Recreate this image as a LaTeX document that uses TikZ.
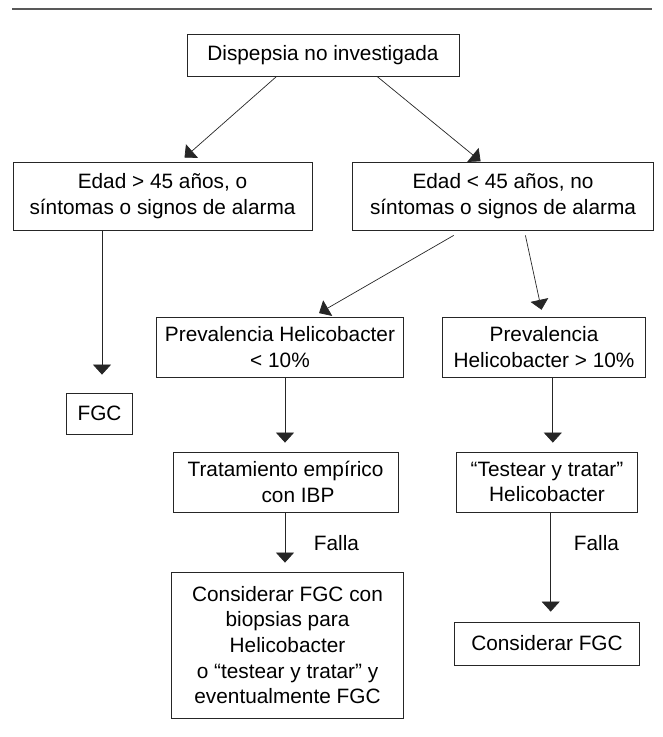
\documentclass[tikz,border=0pt]{standalone}
\usepackage{fontspec}
\setmainfont{Liberation Sans}
\usetikzlibrary{arrows.meta}
\begin{document}
\begin{tikzpicture}[x=1pt,y=-1pt,
  box/.style={draw=black!85,line width=0.8pt,inner sep=0pt,align=center,
    font=\fontsize{20.8}{25.7}\selectfont,text=black},
  arr/.style={draw=black!85,line width=0.7pt,-{Triangle[width=18pt,length=10pt]}},
  lbl/.style={font=\fontsize{20.8}{25.7}\selectfont,text=black,inner sep=0pt}]
\useasboundingbox (0,0) rectangle (662,737);
\draw[line width=1.2pt,black!65] (12,9) -- (652,9);

\node[box,minimum width=272pt,minimum height=42pt] (D) at (323,55) {Dispepsia no investigada};
\node[box,minimum width=299pt,minimum height=68pt] (L1) at (162.5,196) {Edad > 45 años, o\\síntomas o signos de alarma};
\node[box,minimum width=301.5pt,minimum height=68pt] (R1) at (503,196) {Edad < 45 años, no\\síntomas o signos de alarma};
\node[box,minimum width=66pt,minimum height=41pt] (FGC) at (99.5,413.5) {FGC};
\node[box,minimum width=246.5pt,minimum height=60pt] (P1) at (280,347) {Prevalencia Helicobacter\\< 10\%};
\node[box,minimum width=202.5pt,minimum height=60pt] (P2) at (544,347) {Prevalencia\\Helicobacter > 10\%};
\node[box,minimum width=225pt,minimum height=60pt] (T1) at (285.5,482) {Tratamiento empírico\\\hspace*{1.2em}con IBP};
\node[box,minimum width=181.5pt,minimum height=60pt] (T2) at (547,482) {“Testear y tratar”\\Helicobacter};
\node[box,minimum width=232pt,minimum height=146pt] (C1) at (287.5,645) {Considerar FGC con\\biopsias para\\Helicobacter\\o “testear y tratar” y\\eventualmente FGC};
\node[box,minimum width=185pt,minimum height=43pt] (C2) at (547,643.5) {Considerar FGC};

\node[lbl] (F1) at (336.5,543) {Falla};
\node[lbl] (F2) at (596.5,543) {Falla};

\draw[arr,shorten >=6pt] ([xshift=-46.4pt]D.south) -- ([xshift=17.5pt]L1.north);
\draw[arr,shorten >=0.5pt] ([xshift=54pt]D.south) -- ([xshift=-22pt]L1.north -| R1.north);
\draw[arr,shorten >=18pt] ([xshift=2.5pt]FGC.north |- L1.south) -- ([xshift=2.5pt]FGC.north);
\draw[arr,shorten >=7pt] ([xshift=-49.3pt,yshift=-5pt]R1.south) -- ([xshift=33pt]P1.north);
\draw[arr,shorten >=7pt] ([xshift=22.4pt,yshift=-5pt]R1.south) -- ([xshift=-1pt]P2.north);
\draw[arr,shorten >=9pt] ([xshift=5pt]P1.south) -- ([xshift=5pt]P1.south |- T1.north);
\draw[arr,shorten >=9pt] ([xshift=8.8pt]P2.south) -- ([xshift=8.8pt]P2.south |- T2.north);
\draw[arr,shorten >=9pt] ([xshift=-0.5pt]T1.south) -- ([xshift=-0.5pt]T1.south |- C1.north);
\draw[arr,shorten >=10pt] ([xshift=3.7pt]T2.south) -- ([xshift=3.7pt]T2.south |- C2.north);
\end{tikzpicture}
\end{document}
